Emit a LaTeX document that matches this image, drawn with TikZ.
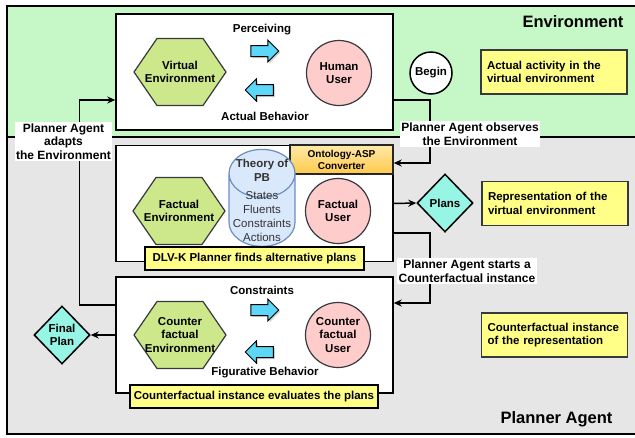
\documentclass[tikz,border=0pt]{standalone}
\usepackage{fontspec}
\setmainfont{Liberation Sans}
\definecolor{EnvGreen}{HTML}{C6F7C6}
\definecolor{AgentGray}{HTML}{E6E6E6}
\definecolor{HexGreen}{HTML}{CDE88A}
\definecolor{UserPink}{HTML}{FFCCCC}
\definecolor{NoteYellow}{HTML}{FFFF88}
\definecolor{FlowCyan}{HTML}{5CD7F8}
\definecolor{PlanTeal}{HTML}{96F5E4}
\definecolor{TheoryBlue}{HTML}{DAE8FC}
\definecolor{TheoryEdge}{HTML}{6C8EBF}
\definecolor{ConvTop}{HTML}{FFE9A8}
\definecolor{ConvBottom}{HTML}{FFC94A}
\definecolor{ShapeEdge}{HTML}{36393D}
\usetikzlibrary{arrows.meta,positioning,calc,shapes.geometric,shapes.arrows,shadows}
\tikzset{
  baseFont/.style={font=\fontsize{11.5}{13.5}\selectfont\bfseries},
  groupBox/.style={draw=black, line width=1.5pt, fill=white, minimum width=277pt, minimum height=116pt, inner sep=0pt},
  hexNode/.style={minimum width=95pt, minimum height=70pt, inner sep=0pt, align=center, baseFont,
    path picture={\filldraw[draw=ShapeEdge, line width=1.2pt, fill=HexGreen]
      ([xshift=1.5pt]path picture bounding box.west) -- ([xshift=24.5pt,yshift=-1.5pt]path picture bounding box.north west)
      -- ([xshift=-24.5pt,yshift=-1.5pt]path picture bounding box.north east) -- ([xshift=-1.5pt]path picture bounding box.east)
      -- ([xshift=-24.5pt,yshift=1.5pt]path picture bounding box.south east) -- ([xshift=24.5pt,yshift=1.5pt]path picture bounding box.south west) -- cycle;}},
  userNode/.style={circle, draw=ShapeEdge, line width=1.2pt, fill=UserPink, minimum size=65pt, inner sep=0pt, align=center, baseFont},
  noteNode/.style={draw=ShapeEdge, line width=1.5pt, fill=NoteYellow, text width=134pt, inner xsep=6pt, minimum height=44pt, align=left, baseFont},
  bannerNode/.style={draw=black, line width=1.5pt, fill=NoteYellow, minimum height=23pt, inner sep=0pt, baseFont},
  convNode/.style={draw=black!85, line width=1.2pt, top color=ConvTop, bottom color=ConvBottom, minimum width=103pt, minimum height=29pt, inner sep=0pt, align=center, font=\fontsize{10}{12}\selectfont\bfseries},
  theoryNode/.style={cylinder, shape border rotate=90, aspect=0.8, draw=TheoryEdge, line width=1.2pt, fill=TheoryBlue, minimum width=66pt, minimum height=97pt, inner sep=0pt},
  theoryText/.style={align=center, inner sep=0pt, text=black!80, font=\fontsize{11.5}{14}\selectfont},
  planNode/.style={diamond, draw=black, line width=1.5pt, fill=PlanTeal, minimum width=56pt, minimum height=58pt, inner sep=0pt, align=center, baseFont},
  beginNode/.style={circle, draw=black, line width=1.5pt, fill=white, minimum size=42pt, inner sep=0pt, baseFont},
  flowRight/.style={single arrow, draw=black, line width=1pt, fill=FlowCyan, text height=10pt, text depth=0pt, minimum height=28pt, single arrow head extend=5.5pt, inner sep=0pt, drop shadow={shadow xshift=1.5pt, shadow yshift=-1.5pt, opacity=0.35}},
  flowLeft/.style={flowRight, shape border rotate=180},
  flowLabel/.style={baseFont},
  edgeLabel/.style={fill=white, inner sep=1.5pt, align=center, font=\fontsize{12}{13.5}\selectfont\bfseries},
  arrow/.style={-{Stealth[length=8pt, width=7pt]}, line width=1.5pt, draw=black},
  titleText/.style={font=\fontsize{16.5}{19}\selectfont\bfseries}
}
\begin{document}
\begin{tikzpicture}[x=1pt, y=-1pt]
\useasboundingbox (0,0) rectangle (635,437);
\fill[AgentGray] (7,137) rectangle (640,434);
\fill[EnvGreen] (7,6) rectangle (640,137);
\draw[line width=1.5pt] (640,6) -| (7,434) -- (640,434);
\draw[line width=1.5pt] (7,137) -- (640,137);
\node[titleText, anchor=east] (envTitle) at (627,22) {Environment};
\node[titleText, anchor=east] (agentTitle) at (616,419) {Planner Agent};

\node[groupBox] (envBox) at (254.5,72) {};
\node[groupBox] (factBox) at (254.5,203.5) {};
\node[groupBox] (cfBox) at (254.5,335) {};

\node[hexNode] (virtualEnv) at (180,72) {Virtual\\Environment};
\node[userNode] (humanUser) at (339,73) {Human\\User};
\node[flowLabel] (perceiving) at (262,30) {Perceiving};
\node[flowRight] (perceiveArrow) at (262,51) {};
\node[flowLeft] (behaveArrow) at (262,90) {};
\node[flowLabel] (actualBehavior) at (265,116) {Actual Behavior};
\node[beginNode] (begin) at (431,73) {Begin};
\node[noteNode] (activityNote) at (554,72) {Actual activity in the\\virtual environment};

\node[convNode] (converter) at (341.5,159.5) {Ontology-ASP\\Converter};
\node[hexNode] (factualEnv) at (179,211) {Factual\\Environment};
\node[theoryNode, anchor=south] (theory) at (262,247) {\rule{60pt}{0pt}};
\node[theoryText] (theoryLabel) at (262,200.5) {{\bfseries Theory of}\\{\bfseries PB}\\[4pt]States\\Fluents\\Constraints\\Actions};
\node[userNode] (factualUser) at (338,211) {Factual\\User};
\node[bannerNode, minimum width=219pt] (dlvk) at (254.5,258.5) {DLV-K Planner finds alternative plans};
\node[planNode] (plans) at (445,203) {Plans};
\node[noteNode] (reprNote) at (555,203.5) {Representation of the\\virtual environment};

\node[hexNode] (cfEnv) at (180,335) {Counter\\factual\\Environment};
\node[userNode] (cfUser) at (338,335) {Counter\\factual\\User};
\node[flowLabel] (constraints) at (262,290) {Constraints};
\node[flowRight] (constraintArrow) at (262,310) {};
\node[flowLeft] (figureArrow) at (262,352) {};
\node[flowLabel] (figurative) at (265,373) {Figurative Behavior};
\node[bannerNode, minimum width=248pt] (evaluate) at (254,396.5) {Counterfactual instance evaluates the plans};
\node[planNode] (finalPlan) at (62,335) {Final\\Plan};
\node[noteNode] (cfNote) at (554.5,335) {Counterfactual instance\\of the representation};

\draw[arrow] ([yshift=-28pt]envBox.east) -| ([xshift=36pt,yshift=40.5pt]factBox.east) -- ([yshift=40.5pt]factBox.east);
\draw[arrow] (factBox.east) -- (plans.west);
\draw[arrow] ([yshift=-29.5pt]factBox.east) -| ([xshift=36pt,yshift=32pt]cfBox.east) -- ([yshift=32pt]cfBox.east);
\draw[arrow] ([yshift=30pt]cfBox.west) -| ([xshift=-36pt,yshift=-28pt]envBox.west) -- ([yshift=-28pt]envBox.west);
\draw[arrow] (cfBox.west) -- (finalPlan.east);

\node[edgeLabel] (observeLabel) at (470,134) {Planner Agent {observes}\\the Environment};
\node[edgeLabel] (startLabel) at (467,271) {Planner Agent starts a\\Counterfactual instance};
\node[edgeLabel] (adaptLabel) at (63.5,141.5) {Planner Agent\\adapts\\the Environment};
\end{tikzpicture}
\end{document}
